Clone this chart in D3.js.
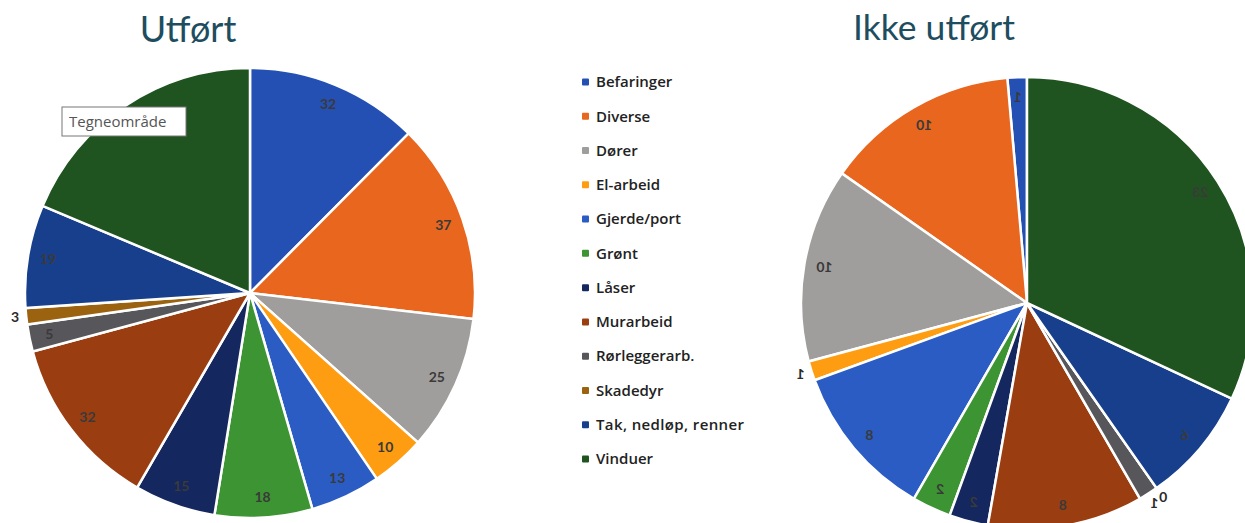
<!DOCTYPE html>
<html>
<head>
<meta charset="utf-8">
<script src="https://cdn.jsdelivr.net/npm/d3@7"></script>
<style>
  body { margin: 0; background: #fff; }
  svg { display: block; }
</style>
</head>
<body>
<svg width="1245" height="523"></svg>
<script>
var categories = ["Befaringer", "Diverse", "Dører", "El-arbeid", "Gjerde/port", "Grønt",
    "Låser", "Murarbeid", "Rørleggerarb.", "Skadedyr", "Tak, nedløp, renner", "Vinduer"];
var utfort = [32, 37, 25, 10, 13, 18, 15, 32, 5, 3, 19, 48];
var ikkeUtfort = [1, 10, 10, 1, 8, 2, 2, 8, 1, 0, 6, 23];
var colors = ["#2450b4", "#e8661e", "#a09e9c", "#ff9d12", "#2a5cc4", "#3c9432",
    "#14275e", "#9a3d10", "#57565a", "#9b6210", "#173f8c", "#1f5420"];
// labels that Excel put outside the pie
var outsideLeft = ["Skadedyr"];
var outsideRight = ["El-arbeid", "Rørleggerarb.", "Skadedyr"];

var svg = d3.select("svg");

var color = d3.scaleOrdinal().domain(categories).range(colors);

function drawPie(values, cx, cy, r, mirror, outside) {
    var data = categories.map((c, i) => ({ name: c, value: values[i] }));
    var pie = d3.pie().sort(null).value(d => d.value);
    var arc = d3.arc().innerRadius(0).outerRadius(r);
    var inner = d3.arc().innerRadius(r * 0.91).outerRadius(r * 0.91);
    var outer = d3.arc().innerRadius(r * 1.05).outerRadius(r * 1.05);

    // the scanned right chart is mirrored, so draw it that way
    var g = svg.append("g")
        .attr("transform", "translate(" + cx + "," + cy + ")" + (mirror ? " scale(-1,1)" : ""));

    var arcs = pie(data);

    g.selectAll("path")
        .data(arcs)
        .join("path")
        .attr("d", arc)
        .attr("fill", d => color(d.data.name))
        .attr("stroke", "#fff")
        .attr("stroke-width", 2.5);

    g.selectAll("text")
        .data(arcs)
        .join("text")
        .attr("transform", d => {
            var p = outside.indexOf(d.data.name) >= 0 ? outer.centroid(d) : inner.centroid(d);
            return "translate(" + p + ")";
        })
        .attr("text-anchor", "middle")
        .attr("dy", "0.35em")
        .attr("font-family", "Lato, 'Open Sans', sans-serif")
        .attr("font-weight", "bold")
        .attr("font-size", 14)
        .attr("fill", d => outside.indexOf(d.data.name) >= 0 ? "#2b2b2b" : "#3a3a3a")
        .text(d => d.data.value);
}

drawPie(utfort, 250, 293, 225, false, outsideLeft);
drawPie(ikkeUtfort, 1027, 303, 226, true, outsideRight);

// titles
svg.append("text")
    .attr("x", 188).attr("y", 42)
    .attr("text-anchor", "middle")
    .attr("font-family", "Lato, sans-serif")
    .attr("font-size", 36)
    .attr("fill", "#1e4d60")
    .text("Utført");

svg.append("text")
    .attr("x", 934).attr("y", 40)
    .attr("text-anchor", "middle")
    .attr("font-family", "Lato, sans-serif")
    .attr("font-size", 35.5)
    .attr("fill", "#1e4d60")
    .text("Ikke utført");

// tooltip left over in the screenshot
var tip = svg.append("g").attr("transform", "translate(62,107)");
tip.append("rect")
    .attr("width", 124).attr("height", 29)
    .attr("fill", "#fff")
    .attr("stroke", "#777")
    .attr("stroke-width", 1);
tip.append("text")
    .attr("x", 7).attr("y", 20)
    .attr("font-family", "'Open Sans', sans-serif")
    .attr("font-size", 15)
    .attr("fill", "#555")
    .text("Tegneområde");

// legend
var legendY = d3.scalePoint().domain(categories).range([82, 459]);

var legend = svg.append("g")
    .selectAll("g")
    .data(categories)
    .join("g")
    .attr("transform", d => "translate(585," + legendY(d) + ")");

legend.append("rect")
    .attr("x", -3).attr("y", -3.5)
    .attr("width", 7).attr("height", 7)
    .attr("rx", 1)
    .attr("fill", d => color(d));

legend.append("text")
    .attr("x", 11)
    .attr("dy", "0.35em")
    .attr("font-family", "'Open Sans', sans-serif")
    .attr("font-weight", 600)
    .attr("font-size", 15)
    .attr("textLength", d => d.length > 15 ? 148 : null)
    .attr("fill", "#222")
    .text(d => d);
</script>
</body>
</html>
